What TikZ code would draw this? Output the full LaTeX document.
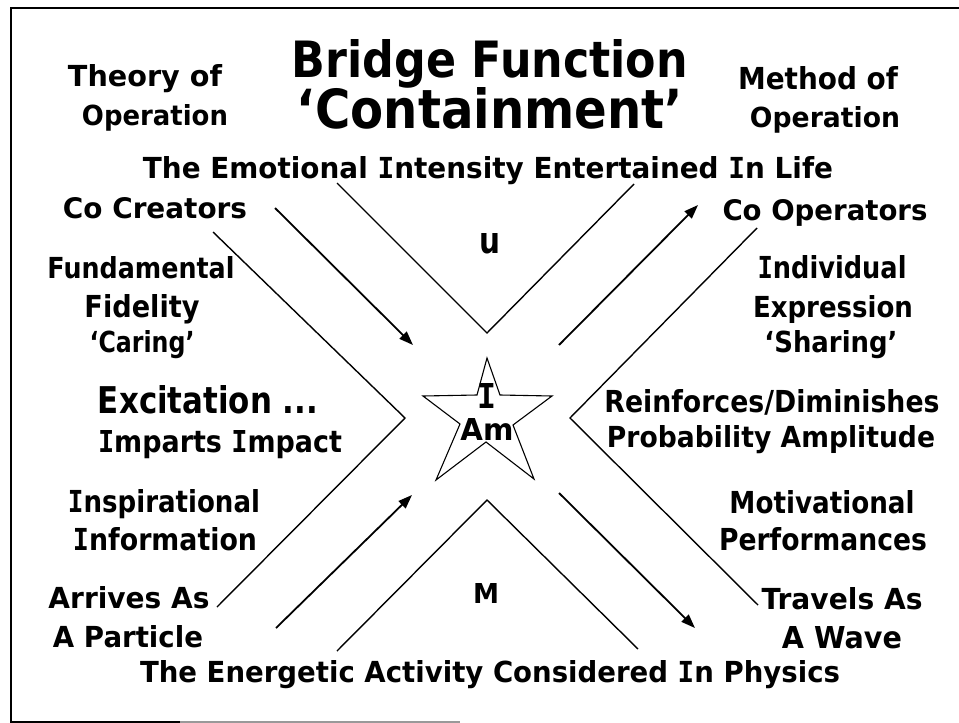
\documentclass[tikz,border=0pt]{standalone}
\usepackage{fontspec}
\setmainfont{DejaVu Sans}
\newfontfamily\monofam{DejaVu Sans Mono}
\usepackage{graphicx}
\usetikzlibrary{arrows.meta}
% text fitted to a measured width and height (above the baseline)
\newcommand\fitto[3]{\resizebox{#1pt}{#2pt}{\bfseries #3}}
% Comic-style capital I with serifs
\newcommand\Iser{{\monofam\bfseries I}}
\begin{document}
\begin{tikzpicture}[x=1pt,y=-1pt,
  lbl/.style={inner sep=0pt, anchor=base},
  conn/.style={line width=1.4pt, line join=miter},
  arr/.style={line width=1.8pt, -{Triangle[length=14pt,width=10pt]}},
  frame/.style={line width=2pt},
  starline/.style={line width=1.1pt, line join=miter}]
\useasboundingbox (0,0) rectangle (959,723);
\fill[white] (0,0) rectangle (959,723);
% frame
\coordinate (fTR) at (959,8);
\coordinate (fTL) at (11,8);
\coordinate (fBL) at (11,722);
\coordinate (fBM) at (180,722);
\coordinate (fBE) at (460,722);
\draw[frame] (fTR) -- (fTL) -- (fBL) -- (fBM);
\draw[line width=1.2pt, black!40] (fBM) -- (fBE);

% titles and labels
\node[lbl] (t1) at (490,77) {\fitto{396}{38}{Bridge Function}};
\node[lbl] (t2) at (490,128) {\fitto{386}{41}{‘Containment’}};
\node[lbl] (thA) at (145,86) {\fitto{154}{22}{Theory of}};
\node[lbl] (thB) at (155,125) {\fitto{146}{21}{Operation}};
\node[lbl] (meA) at (818,89) {\fitto{160}{23}{Method of}};
\node[lbl] (meB) at (825,127) {\fitto{150}{21}{Operation}};
\node[lbl] (emo) at (488,178) {\fitto{690}{22}{The Emotional \Iser ntensity Entertained \Iser n Life}};
\node[lbl] (cocr) at (155,218) {\fitto{184}{21}{Co Creators}};
\node[lbl] (coop) at (825,220) {\fitto{205}{21}{Co Operators}};
\node[lbl] (uu) at (490,253) {\fitto{21}{20}{u}};
\node[lbl] (fu1) at (141,278) {\fitto{187}{22}{Fundamental}};
\node[lbl] (fu2) at (142,317) {\fitto{115}{23}{Fidelity}};
\node[lbl] (fu3) at (142,352) {\fitto{105}{22}{‘Caring’}};
\node[lbl] (in1) at (832,278) {\fitto{149}{23}{\Iser ndividual}};
\node[lbl] (in2) at (833,317) {\fitto{160}{22}{Expression}};
\node[lbl] (in3) at (831,352) {\fitto{133}{22}{‘Sharing’}};
\node[lbl] (ex1) at (208,413) {\fitto{220}{28}{Excitation ...}};
\node[lbl] (ex2) at (220,452) {\fitto{244}{22}{\Iser mparts \Iser mpact}};
\node[lbl] (re1) at (772,412) {\fitto{335}{23}{Reinforces/Diminishes}};
\node[lbl] (re2) at (771,447) {\fitto{328}{22}{Probability Amplitude}};
\node[lbl] (ip1) at (164,512) {\fitto{192}{23}{\Iser nspirational}};
\node[lbl] (ip2) at (165,550) {\fitto{184}{23}{\Iser nformation}};
\node[lbl] (mo1) at (822,513) {\fitto{185}{23}{Motivational}};
\node[lbl] (mo2) at (823,550) {\fitto{208}{23}{Performances}};
\node[lbl] (ar1) at (129,608) {\fitto{161}{22}{Arrives As}};
\node[lbl] (ar2) at (128,647) {\fitto{150}{22}{A Particle}};
\node[lbl] (tr1) at (842,609) {\fitto{161}{22}{Travels As}};
\node[lbl] (tr2) at (842,648) {\fitto{120}{22}{A Wave}};
\node[lbl] (mm) at (486,603) {\fitto{26}{20}{M}};
\node[lbl] (ene) at (490,682) {\fitto{700}{22}{The Energetic Activity Considered \Iser n Physics}};

% star
\coordinate (s1) at (487,358);
\coordinate (s2) at (500,395);
\coordinate (s3) at (552,396);
\coordinate (s4) at (513,425);
\coordinate (s5) at (534,479);
\coordinate (s6) at (486,442);
\coordinate (s7) at (436,480);
\coordinate (s8) at (460,424);
\coordinate (s9) at (423,396);
\coordinate (s10) at (477,395);
\draw[starline] (s1) -- (s2) -- (s3) -- (s4) -- (s5) -- (s6) -- (s7) -- (s8) -- (s9) -- (s10) -- cycle;
\node[lbl] (sI) at (487,408) {\fitto{19}{25}{\Iser}};
\node[lbl] (sAm) at (487,440) {\fitto{53}{22}{Am}};

% connector points
\coordinate (a1) at (213,232);
\coordinate (a2) at (405,418);
\coordinate (a3) at (217,607);
\coordinate (b1) at (275,208);
\coordinate (b2) at (413,345);
\coordinate (c1) at (337,183);
\coordinate (c2) at (487,333);
\coordinate (c3) at (634,184);
\coordinate (d1) at (559,345);
\coordinate (d2) at (698,205);
\coordinate (e1) at (757,228);
\coordinate (e2) at (570,418);
\coordinate (e3) at (758,605);
\coordinate (f1) at (276,628);
\coordinate (f2) at (412,495);
\coordinate (g1) at (337,651);
\coordinate (g2) at (487,500);
\coordinate (g3) at (638,649);
\coordinate (h1) at (559,493);
\coordinate (h2) at (695,628);

\draw[conn] (a1) -- (a2) -- (a3);
\draw[conn] (c1) -- (c2) -- (c3);
\draw[conn] (e1) -- (e2) -- (e3);
\draw[conn] (g1) -- (g2) -- (g3);
\draw[arr] (b1) -- (b2);
\draw[arr] (d1) -- (d2);
\draw[arr] (f1) -- (f2);
\draw[arr] (h1) -- (h2);
\end{tikzpicture}
\end{document}
